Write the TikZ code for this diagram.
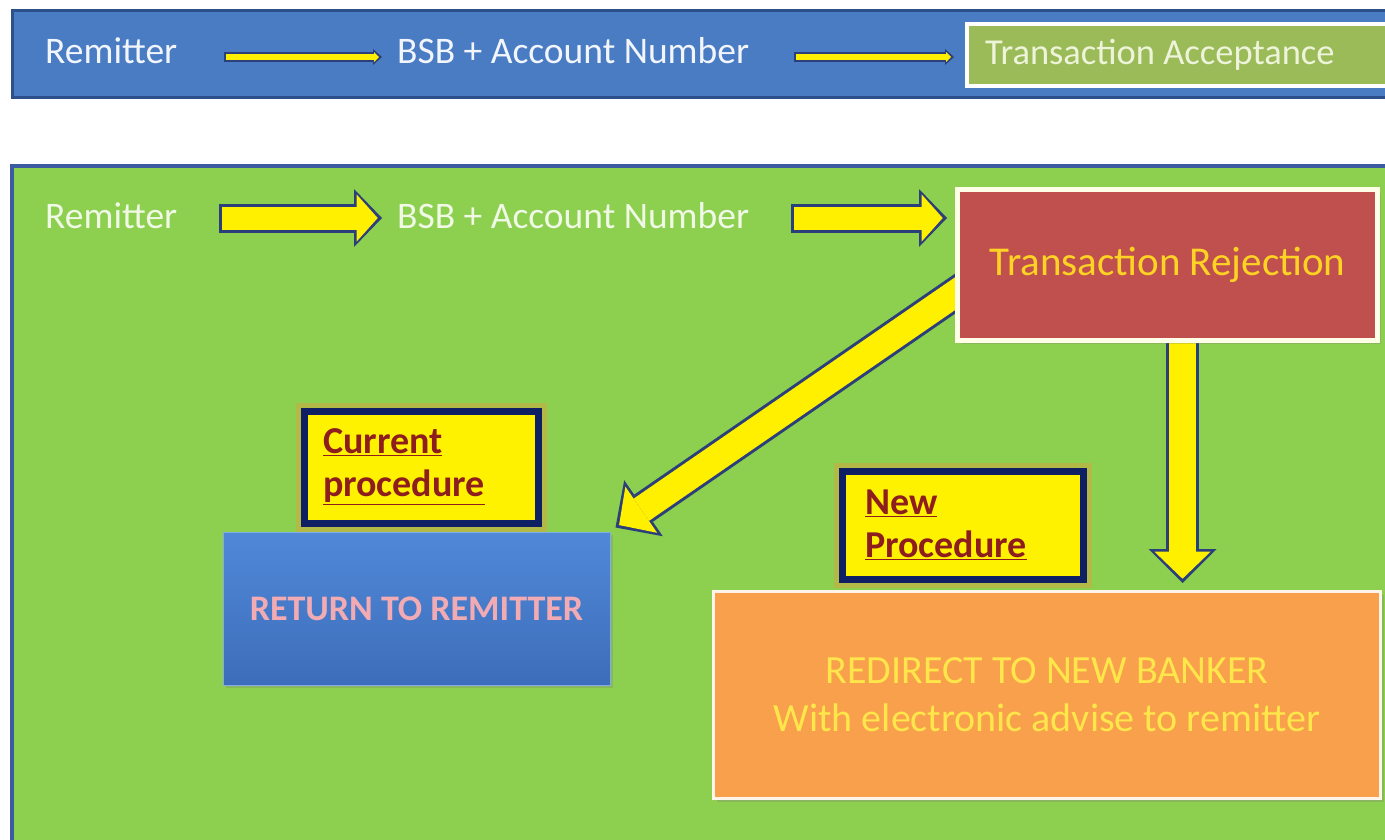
\documentclass[tikz,border=0pt]{standalone}
\usepackage{fontspec}
\setmainfont{Carlito}
\usetikzlibrary{arrows.meta,calc,shadows}
\definecolor{barblue}{HTML}{4A7CC3}
\definecolor{barline}{HTML}{2D4F8A}
\definecolor{fieldgreen}{HTML}{8DCF4E}
\definecolor{fieldline}{HTML}{3B5AA0}
\definecolor{accgreen}{HTML}{9BBB59}
\definecolor{rejred}{HTML}{C0504D}
\definecolor{retblueT}{HTML}{5089D8}
\definecolor{retblueB}{HTML}{3D6DBA}
\definecolor{redorange}{HTML}{F8A04C}
\definecolor{boxnavy}{HTML}{0E1F63}
\definecolor{glowc}{HTML}{D9A441}
\definecolor{procred}{HTML}{8E1E1E}
\definecolor{arrline}{HTML}{2B3F7A}
\definecolor{arryel}{HTML}{FFF000}
\definecolor{goldtxt}{HTML}{FFD324}
\definecolor{pinktxt}{HTML}{F3ABB3}
\definecolor{yeltxt}{HTML}{FFE64A}
\definecolor{lighttxt}{HTML}{F2F6FC}
\definecolor{greentxt}{HTML}{F0F8E6}
\definecolor{acctxt}{HTML}{EEF4DA}
\pgfdeclarelayer{bg}
\pgfdeclarelayer{arr}
\pgfsetlayers{bg,arr,main}
\newcommand{\blockarr}[3]{%
  \draw[#1out] #2 -- #3;
  \draw[#1in] #2 -- #3;}
\tikzset{
  thinout/.style={draw=arrline, line width=10pt, -{Triangle[length=9pt,width=16pt,line width=0pt]}},
  thinin/.style={draw=arryel, line width=6pt, shorten <=2pt, shorten >=3pt, -{Triangle[length=5pt,width=10pt,line width=0pt]}},
  midout/.style={draw=arrline, line width=29pt, -{Triangle[length=28pt,width=58pt,line width=0pt]}},
  midin/.style={draw=arryel, line width=23pt, shorten <=3pt, shorten >=4.3pt, -{Triangle[length=21pt,width=47pt,line width=0pt]}},
  bigout/.style={draw=arrline, line width=33pt, -{Triangle[length=34pt,width=68pt,line width=0pt]}},
  bigin/.style={draw=arryel, line width=27pt, shorten <=3pt, shorten >=4.3pt, -{Triangle[length=27pt,width=56pt,line width=0pt]}},
  toptxt/.style={font=\fontsize{37.5}{44}\selectfont, text=lighttxt, inner sep=0pt, anchor=base west},
  rowtxt/.style={font=\fontsize{37.5}{44}\selectfont, text=greentxt, inner sep=0pt, anchor=base west},
  procbox/.style={draw=boxnavy, line width=7pt, fill=yellow, preaction={draw=glowc, draw opacity=0.5, line width=17pt},
    font=\fontsize{38}{43}\selectfont\bfseries, text=procred, align=flush left, inner ysep=4pt},
  shad/.style={drop shadow={opacity=0.3, shadow xshift=3pt, shadow yshift=-3pt}}
}
\begin{document}
\begin{tikzpicture}[x=1pt,y=-1pt]
\useasboundingbox (0,0) rectangle (1385,839);
\begin{pgfonlayer}{bg}
  \fill[white] (0,0) rectangle (1385,839);
  \filldraw[fill=barblue, draw=barline, line width=3pt] (12,10) rectangle (1398,97);
  \filldraw[fill=fieldgreen, draw=fieldline, line width=4pt] (12,166) rectangle (1398,852);
\end{pgfonlayer}

% top row
\node[toptxt] (rem1) at (45,63) {Remitter};
\node[toptxt] (bsb1) at (397,63) {BSB + Account Number};
\node[draw=white, line width=4pt, fill=accgreen, minimum width=427pt, minimum height=62pt, anchor=west,
      inner xsep=18pt, text width=391pt, align=flush left, font=\fontsize{36.5}{42}\selectfont, text=acctxt] (acc) at (965,55) {Transaction Acceptance};

% second row
\node[rowtxt] (rem2) at (45,228) {Remitter};
\node[rowtxt] (bsb2) at (397,228) {BSB + Account Number};
\node[shad, draw=white!90!yellow, line width=5pt, fill=rejred, minimum width=420pt, minimum height=151pt,
      font=\fontsize{41}{48}\selectfont, text=goldtxt] (rej) at (1167.5,265) {Transaction Rejection};

% procedures
\node[procbox, minimum width=234pt, minimum height=112pt, inner xsep=19pt, text width=196pt] (cur) at (421,467)
  {\underline{Current}\\\underline{procedure}};
\node[shad, top color=retblueT, bottom color=retblueB, draw=retblueT!70!white, line width=1pt,
      minimum width=387pt, minimum height=153pt, font=\fontsize{36}{42}\selectfont\bfseries, text=pinktxt] (ret) at (416.5,608.5) {RETURN TO REMITTER};
\node[procbox, minimum width=241pt, minimum height=108pt, inner xsep=23pt, text width=195pt] (new) at (962.5,525)
  {\underline{New}\\\underline{Procedure}};
\node[shad, draw=white!92!orange, line width=3pt, fill=redorange, minimum width=667pt, minimum height=207pt,
      font=\fontsize{40}{48}\selectfont, text=yeltxt, align=center] (redir) at (1047,695)
  {REDIRECT TO NEW BANKER\\With electronic advise to remitter};

% connectors
\coordinate (r2s) at ($(bsb2.base east)+(42,-10)$);
\coordinate (dtop) at ($(rej.south)+(15,-15)$);
\begin{pgfonlayer}{arr}
  \blockarr{thin}{($(rem1.base east)+(47,-6)$)}{($(bsb1.base west)+(-15,-6)$)}
  \blockarr{thin}{($(bsb1.base east)+(45,-6)$)}{($(acc.west)+(-11,2)$)}
  \blockarr{mid}{($(rem2.base east)+(42,-10)$)}{($(bsb2.base west)+(-15,-10)$)}
  \blockarr{mid}{(r2s)}{($(r2s -| rej.west)+(-8,0)$)}
  \blockarr{big}{($(rej.west)+(17,17)$)}{($(ret.north east)+(5,-4)$)}
  \blockarr{big}{(dtop)}{($(redir.north -| dtop)+(0,-7)$)}
\end{pgfonlayer}
\end{tikzpicture}
\end{document}
